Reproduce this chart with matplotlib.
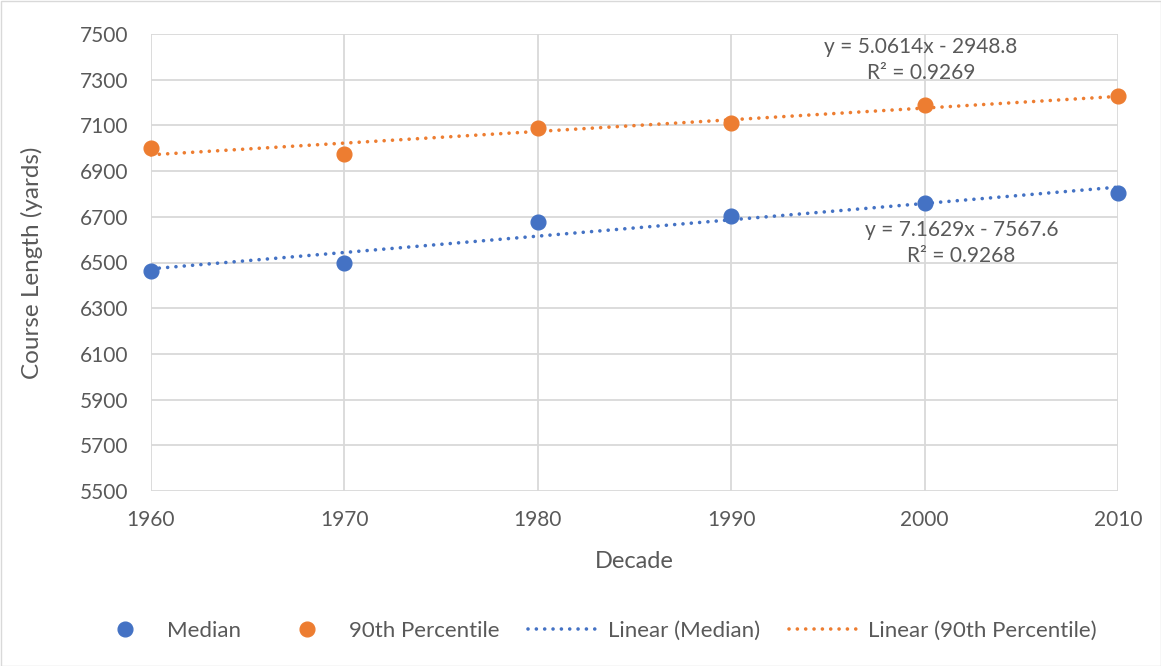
import matplotlib
matplotlib.use("Agg")
import matplotlib.pyplot as plt
from matplotlib.lines import Line2D
import numpy as np

plt.rcParams['font.family'] = ['Lato', 'DejaVu Sans']

decades = [1960, 1970, 1980, 1990, 2000, 2010]
median = [6463, 6500, 6678, 6704, 6759, 6803]
p90 = [7002, 6977, 7088, 7110, 7191, 7227]
yticks = [5500, 5700, 5900, 6100, 6300, 6500, 6700, 6900, 7100, 7300, 7500]
eq_median = "y = 7.1629x - 7567.6\nR² = 0.9268"
eq_p90 = "y = 5.0614x - 2948.8\nR² = 0.9269"

blue = "#4472C4"
orange = "#ED7D31"
gray_text = "#595959"
grid_c = "#D9D9D9"
dot_ls = (0, (0.01, 2.3))
tlw = 2.6

fig = plt.figure(figsize=(11.61, 6.66), dpi=100)
ax = fig.add_axes([151/1161, 1 - 491/666, (1118-151)/1161, (491-34)/666])

x = np.array(decades, dtype=float)
xs = np.array([decades[0], decades[-1]], dtype=float)
for ys, c in [(median, blue), (p90, orange)]:
    k, b = np.polyfit(x, ys, 1)
    ax.plot(xs, k*xs + b, linestyle=dot_ls, color=c, lw=tlw,
            dash_capstyle='round', zorder=2, clip_on=False)
ax.plot(x, median, 'o', color=blue, ms=10.6, zorder=3, clip_on=False)
ax.plot(x, p90, 'o', color=orange, ms=10.6, zorder=3, clip_on=False)

ax.set_xlim(1960, 2010)
ax.set_ylim(5500, 7500)
ax.set_xticks(decades)
ax.set_yticks(yticks)
ax.grid(True, color=grid_c, lw=1.3)
ax.set_axisbelow(True)
for s in ax.spines.values():
    s.set_visible(False)
ax.tick_params(axis='y', length=0, labelsize=15, labelcolor=gray_text, pad=16.5)
ax.tick_params(axis='x', length=0, labelsize=15, labelcolor=gray_text, pad=14)
ax.set_xlabel("Decade", fontsize=17, color=gray_text, labelpad=15)
ax.set_ylabel("Course Length (yards)", fontsize=17.5, color=gray_text, labelpad=26)

ax.text(1999.8, 7386, eq_p90, ha='center', va='center', fontsize=15,
        color=gray_text, linespacing=1.35)
ax.text(2001.9, 6585, eq_median, ha='center', va='center', fontsize=15,
        color=gray_text, linespacing=1.35)

handles = [
    Line2D([], [], marker='o', ls='none', color=blue, ms=10.6),
    Line2D([], [], marker='o', ls='none', color=orange, ms=10.6),
    Line2D([], [], ls=dot_ls, color=blue, lw=tlw, dash_capstyle='round'),
    Line2D([], [], ls=dot_ls, color=orange, lw=tlw, dash_capstyle='round'),
]
labels = ["Median", "90th Percentile", "Linear (Median)", "Linear (90th Percentile)"]
leg = fig.legend(handles, labels, loc='center', bbox_to_anchor=(592/1161, 1 - 631/666),
                 ncol=4, frameon=False, fontsize=16, handlelength=3.375,
                 columnspacing=1.3, handletextpad=0.2)
for t in leg.get_texts():
    t.set_color(gray_text)

fig.patches.append(plt.Rectangle((0.5/1161, 0.5/666), 1 - 1/1161, 1 - 1/666,
                                 transform=fig.transFigure, fill=False,
                                 edgecolor=grid_c, lw=1))
fig.savefig("out.png", dpi=100, facecolor='white')
